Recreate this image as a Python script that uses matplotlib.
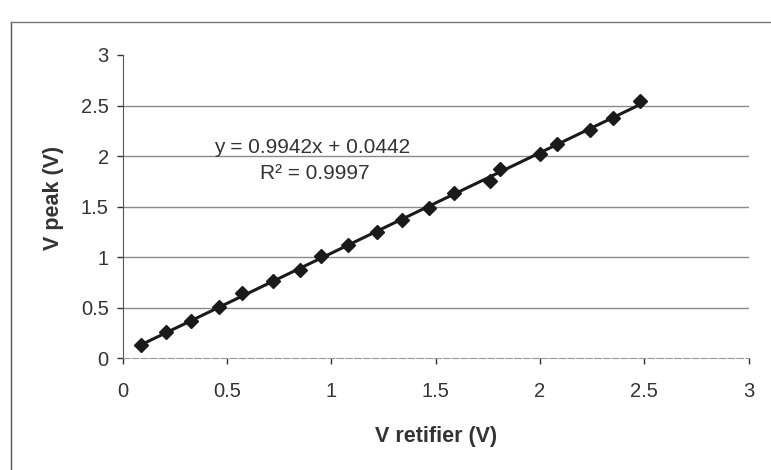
import numpy as np
import matplotlib
matplotlib.use("Agg")
import matplotlib.pyplot as plt
from matplotlib.lines import Line2D

# measured points: rectifier output vs. peak voltage
v_retifier = [0.09, 0.21, 0.33, 0.46, 0.57, 0.72, 0.85, 0.95, 1.08, 1.22,
              1.34, 1.47, 1.59, 1.76, 1.81, 2.00, 2.08, 2.24, 2.35, 2.48]
v_peak = [0.13, 0.26, 0.37, 0.51, 0.64, 0.76, 0.87, 1.01, 1.12, 1.25,
          1.37, 1.49, 1.63, 1.75, 1.87, 2.02, 2.12, 2.26, 2.38, 2.54]

# linear trendline coefficients
slope = 0.9942
intercept = 0.0442
r2 = 0.9997

ticks = [0, 0.5, 1, 1.5, 2, 2.5, 3]
tick_labels = ["0", "0.5", "1", "1.5", "2", "2.5", "3"]

plt.rcParams['font.family'] = ['Liberation Sans', 'DejaVu Sans']

fig = plt.figure(figsize=(7.71, 4.70), dpi=100)
ax = fig.add_axes([0.159, 0.238, 0.812, 0.645])

# trendline over the data range
xs = np.array([min(v_retifier), max(v_retifier)])
ax.plot(xs, slope * xs + intercept, color='#1a1a1a', lw=2.2, zorder=3)
ax.plot(v_retifier, v_peak, linestyle='none', marker='D', markersize=7.5,
        color='#1a1a1a', zorder=4)

ax.set_xlim(0, 3)
ax.set_ylim(0, 3)
ax.set_xticks(ticks)
ax.set_xticklabels(tick_labels)
ax.set_yticks(ticks)
ax.set_yticklabels(tick_labels)
ax.tick_params(axis='both', labelsize=14.5, colors='#333333', length=4,
               direction='out', width=1)
ax.tick_params(axis='x', pad=13)
ax.tick_params(axis='y', pad=6)

# gridlines at 0.5 .. 2.5 only
for yv in ticks[1:-1]:
    ax.axhline(yv, color='#8a8a8a', lw=1.0, zorder=1)

for side in ['top', 'right']:
    ax.spines[side].set_visible(False)
ax.spines['left'].set_color('#555555')
ax.spines['bottom'].set_color('#999999')
ax.spines['bottom'].set_linestyle((0, (6, 2)))

ax.set_xlabel('V retifier (V)', fontsize=15.5, fontweight='bold',
              color='#333333', labelpad=18)
ax.set_ylabel('V peak (V)', fontsize=15.5, fontweight='bold',
              color='#333333')
ax.yaxis.set_label_coords(-0.093, 0.53)

ax.text(0.91, 2.08, f'y = {slope:.4f}x + {intercept:.4f}',
        fontsize=15, color='#333333', ha='center', va='center')
ax.text(0.92, 1.83, f'R\u00b2 = {r2:.4f}', fontsize=15, color='#333333',
        ha='center', va='center')

# chart area border (left and top edges)
fig.add_artist(Line2D([0.014, 0.014], [0.0, 0.953], transform=fig.transFigure,
                      color='#555555', lw=1.0))
fig.add_artist(Line2D([0.014, 1.0], [0.953, 0.953], transform=fig.transFigure,
                      color='#777777', lw=1.0))

fig.savefig('out.png', dpi=100)
